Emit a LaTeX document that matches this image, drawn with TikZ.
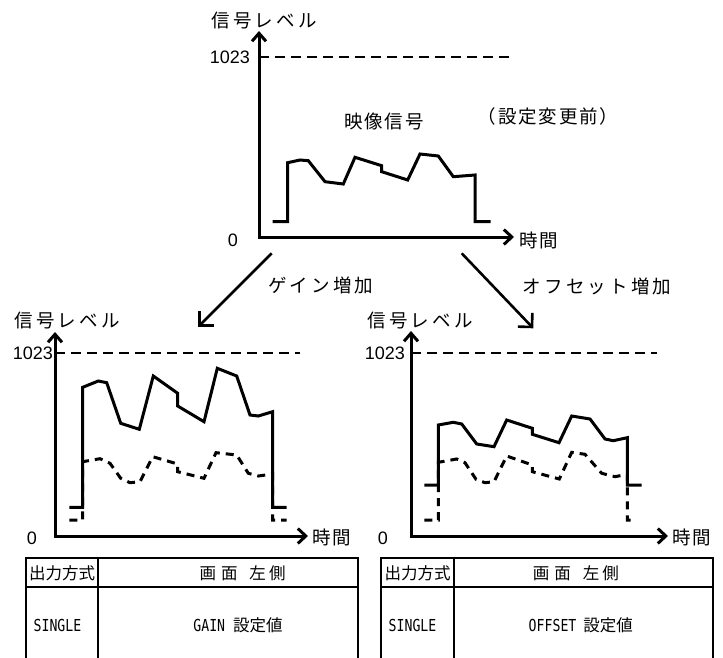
\documentclass[tikz,border=0pt]{standalone}
\usepackage{fontspec}
\setmainfont{Liberation Sans}
\newfontfamily\jp[LetterSpace=17]{Noto Sans CJK JP}
\newfontfamily\jpn[LetterSpace=10]{Noto Sans CJK JP}
\newfontfamily\jpt{Noto Sans CJK JP}
\newfontfamily\tmono[FakeStretch=0.8]{DejaVu Sans Mono}
\usetikzlibrary{arrows.meta}
\begin{document}
\begin{tikzpicture}[x=1pt,y=-1pt,
  axis/.style={line width=3pt,{Straight Barb[length=8pt,width=14pt]}-{Straight Barb[length=8pt,width=15pt]}},
  diag/.style={line width=2.6pt,-{Straight Barb[length=10pt,width=20pt]}},
  wave/.style={line width=3pt},
  dwave/.style={line width=3pt,dash pattern=on 8pt off 6pt},
  lvl/.style={line width=2.8pt,dash pattern=on 10pt off 6pt},
  jlab/.style={font=\jp\fontsize{18.5}{22}\selectfont,inner sep=0pt},
  jlabn/.style={font=\jpn\fontsize{18.5}{22}\selectfont,inner sep=0pt},
  num/.style={font=\fontsize{18}{21}\selectfont,inner sep=0pt},
  tline/.style={line width=2.2pt},
  tj/.style={font=\jpt\fontsize{16.5}{19}\selectfont,inner sep=0pt},
  tm/.style={font=\tmono\fontsize{16.5}{19}\selectfont,inner sep=0pt}]
\useasboundingbox (0,0) rectangle (723,658);

% ---------- top chart ----------
\coordinate (yt1) at (259,31);
\coordinate (o1) at (259,237);
\coordinate (xr1) at (514,237);
\draw[axis] (yt1) -- (o1) -- (xr1);
\coordinate (la1) at (259,57);
\coordinate (lb1) at (512,57);
\draw[lvl] (la1) -- (lb1);
\node[jlab] (ylab1) at (264,21) {信号レベル};
\node[num,anchor=east] (n1023a) at (250,57) {1023};
\node[num] (n0a) at (233,240) {0};
\node[jlabn,anchor=west] (xlab1) at (519,240) {時間};
\node[jlabn] (sig) at (384,121.5) {映像信号};
\node[jlabn] (before) at (548,116.5) {（設定変更前）};
\draw[wave] (272.7,221.7) -- (287.7,221.7) -- (287.7,162.7) -- (300,160) -- (308.3,160.7)
  -- (325,181.7) -- (343.3,184) -- (355,157.3) -- (381.7,165.7) -- (381.7,171.7)
  -- (407.7,180) -- (420,154) -- (438.3,156) -- (453.3,176.7) -- (475,175)
  -- (475,221.7) -- (490.7,221.7);

% ---------- diagonal arrows ----------
\coordinate (da1) at (271.7,253.3);
\coordinate (db1) at (198.3,326.7);
\coordinate (da2) at (461.7,253.3);
\coordinate (db2) at (533.3,328.3);
\draw[diag] (da1) -- (db1);
\draw[diag] (da2) -- (db2);
\node[jlab] (gain) at (321,285.5) {ゲイン増加};
\node[jlab] (offs) at (597,286.5) {オフセット増加};

% ---------- left chart ----------
\coordinate (yt2) at (55,332);
\coordinate (o2) at (55,536);
\coordinate (xr2) at (308,536);
\draw[axis] (yt2) -- (o2) -- (xr2);
\coordinate (la2) at (55,353);
\coordinate (lb2) at (300,353);
\draw[lvl] (la2) -- (lb2);
\node[jlab] (ylab2) at (67,321) {信号レベル};
\node[num,anchor=east] (n1023b) at (53,353) {1023};
\node[num] (n0b) at (32,538) {0};
\node[jlabn,anchor=west] (xlab2) at (312,537) {時間};
\draw[dwave] (69.3,520) -- (82.7,520) -- (82.7,461.7) -- (100,458.7) -- (110,463.3)
  -- (120.7,478.3) -- (130,482.7) -- (140,481.7) -- (152.7,456.7) -- (177.7,464)
  -- (177.7,471.7) -- (204,478.3) -- (216,452.7) -- (236.7,455) -- (248.3,473.3)
  -- (258.3,476) -- (272.7,474) -- (272.7,520) -- (286.7,520);
\draw[wave] (69.3,507.3) -- (82.7,507.3) -- (82.7,387.3) -- (98.3,381) -- (106.7,382.7)
  -- (120.7,423.3) -- (139.3,429.3) -- (153.3,376) -- (177.7,393.3) -- (177.7,406)
  -- (204,421.7) -- (217.3,368.3) -- (236.7,376) -- (250,415) -- (258.3,416)
  -- (272.7,411.7) -- (272.7,507.3) -- (286.7,507.3);

% ---------- right chart ----------
\coordinate (yt3) at (411,331);
\coordinate (o3) at (411,536);
\coordinate (xr3) at (668,536);
\draw[axis] (yt3) -- (o3) -- (xr3);
\coordinate (la3) at (411,353);
\coordinate (lb3) at (657,353);
\draw[lvl] (la3) -- (lb3);
\node[jlab] (ylab3) at (420,320.5) {信号レベル};
\node[num,anchor=east] (n1023c) at (405,353) {1023};
\node[num] (n0c) at (383,538) {0};
\node[jlabn,anchor=west] (xlab3) at (672,537) {時間};
\draw[dwave] (424.3,520) -- (438.3,520) -- (438.3,462.3) -- (456.7,459) -- (465,462.7)
  -- (476,479.3) -- (485,482.7) -- (494,481.7) -- (506.7,456) -- (532.3,465)
  -- (532.3,471.7) -- (559.3,479) -- (571.7,452.3) -- (585,454.3) -- (601.7,473.3)
  -- (615,476.7) -- (627.3,474.3) -- (627.3,520) -- (634.3,520);
\draw[wave] (424.3,485) -- (438.3,485) -- (438.3,425) -- (453.3,422.3) -- (461.7,424)
  -- (476.7,444) -- (494,446.7) -- (506.7,420) -- (532.3,428.3) -- (532.3,434.3)
  -- (559,442.7) -- (571.7,416) -- (590,419) -- (605,439) -- (613.3,440.7)
  -- (627.3,437.7) -- (627.3,485) -- (641.7,485);

% ---------- left table ----------
\draw[tline] (26,660) -- (26,558.3) -- (358.3,558.3) -- (358.3,660);
\draw[tline] (26,587.3) -- (358.3,587.3);
\draw[tline] (98.3,558.3) -- (98.3,660);
\node[tj] (th1) at (62,573) {出力方式};
\node[tj] (th2) at (242.5,573) {画\hspace{5pt}面\hspace{12pt}左\hspace{3pt}側};
\node[tm] (tc1) at (57.5,625) {SINGLE};
\node[tj] (tc2) at (238,625) {{\tmono GAIN}\hspace{8pt}設定値};

% ---------- right table ----------
\draw[tline] (381,660) -- (381,558.3) -- (713.3,558.3) -- (713.3,660);
\draw[tline] (381,587.3) -- (713.3,587.3);
\draw[tline] (454.3,558.3) -- (454.3,660);
\node[tj] (th3) at (417.5,573) {出力方式};
\node[tj] (th4) at (575.8,573) {画\hspace{5pt}面\hspace{12pt}左\hspace{3pt}側};
\node[tm] (tc3) at (412.5,625) {SINGLE};
\node[tj] (tc4) at (580.8,625) {{\tmono OFFSET}\hspace{7pt}設定値};
\end{tikzpicture}
\end{document}
